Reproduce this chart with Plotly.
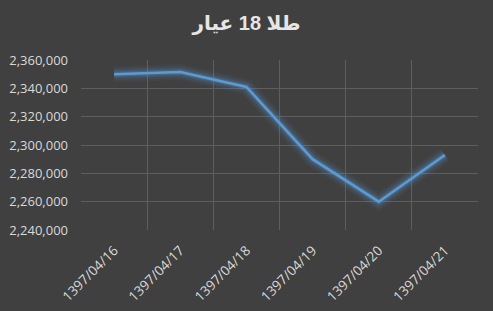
import plotly.graph_objects as go

dates = ["1397/04/16", "1397/04/17", "1397/04/18", "1397/04/19", "1397/04/20", "1397/04/21"]
prices = [2350000, 2351500, 2341000, 2290000, 2260000, 2293000]
title_text = "طلا 18 عیار"

FONT = "Open Sans, Liberation Sans, DejaVu Sans, Arial"

fig = go.Figure()
# glow layers
for w, a in [(16, 0.06), (12, 0.09), (8, 0.14), (5, 0.2)]:
    fig.add_trace(go.Scatter(x=dates, y=prices, mode="lines",
                             line=dict(color=f"rgba(91,155,213,{a})", width=w),
                             hoverinfo="skip", showlegend=False))
fig.add_trace(go.Scatter(x=dates, y=prices, mode="lines",
                         line=dict(color="#5b9bd5", width=2.5), showlegend=False))

fig.update_layout(
    width=493, height=311,
    paper_bgcolor="#404040", plot_bgcolor="#404040",
    margin=dict(l=81, r=15, t=60, b=81),
    title=dict(text=f"<b>{title_text}</b>", x=0.5, xanchor="center", y=0.925, yanchor="middle",
               font=dict(family="Liberation Sans, DejaVu Sans, Arial", size=20, color="#e6e6e6")),
    font=dict(family=FONT, size=13, color="#d9d9d9"),
)
fig.update_xaxes(type="category", tickson="boundaries", showgrid=True, gridcolor="#5e5e5e",
                 gridwidth=1, tickangle=-45, ticks="", showline=False, zeroline=False,
                 tickfont=dict(family=FONT, size=13.5, color="#d9d9d9"), automargin=False,
                 range=[-0.5, 5.5], ticklabelstandoff=9)
fig.update_yaxes(range=[2240000, 2360000], dtick=20000, tickformat=",", showgrid=True,
                 gridcolor="#5e5e5e", gridwidth=1, zeroline=False, showline=False,
                 tickfont=dict(family=FONT, size=13, color="#d9d9d9"), automargin=False,
                 ticklabelstandoff=12)

fig.write_html("out.html")
